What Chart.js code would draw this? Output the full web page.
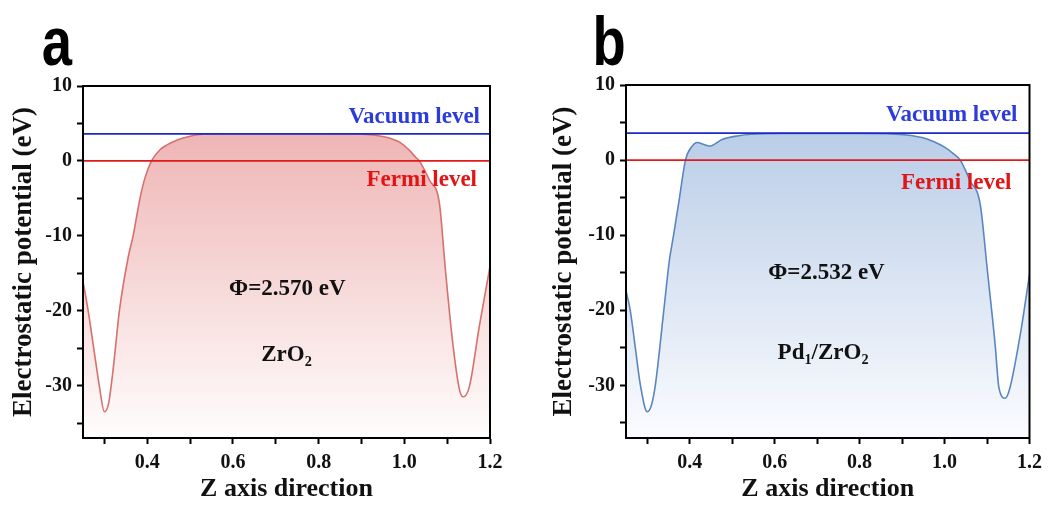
<!DOCTYPE html>
<html>
<head>
<meta charset="utf-8">
<script src="https://cdn.jsdelivr.net/npm/chart.js@4.4.0/dist/chart.umd.min.js"></script>
<style>
  html, body { margin: 0; padding: 0; background: #fff; }
  body { width: 1049px; height: 505px; position: relative; overflow: hidden; }
  .panel { position: absolute; top: 0; height: 505px; }
  #boxA { left: 0; width: 525px; }
  #boxB { left: 540px; width: 509px; }
</style>
</head>
<body>
<div class="panel" id="boxA"><canvas id="chartA"></canvas></div>
<div class="panel" id="boxB"><canvas id="chartB"></canvas></div>
<script>
// ZrO2 potential profile
const zrZ = [0.25, 0.262, 0.275, 0.288, 0.300, 0.310, 0.320, 0.335, 0.355, 0.367, 0.383, 0.395, 0.410, 0.430, 0.445, 0.470, 0.500, 0.530, 0.600, 0.700, 0.800, 0.880, 0.920, 0.950, 0.970, 0.989, 1.012, 1.027, 1.035, 1.059, 1.082, 1.096, 1.113, 1.129, 1.138, 1.152, 1.175, 1.200];
const zrV = [-16.1, -20.0, -25.0, -30.0, -33.5, -32.3, -28.0, -20.0, -13.0, -10.0, -5.0, -2.2, 0.0, 1.5, 2.1, 2.8, 3.3, 3.55, 3.62, 3.62, 3.62, 3.6, 3.5, 3.25, 2.95, 2.5, 1.4, 0.45, 0.0, -2.6, -5.7, -14.6, -24.3, -30.6, -31.5, -30.1, -22.1, -14.1];

// Pd1/ZrO2 potential profile
const pdZ = [0.25, 0.26, 0.272, 0.284, 0.30, 0.31, 0.319, 0.339, 0.352, 0.362, 0.376, 0.39, 0.405, 0.418, 0.432, 0.447, 0.476, 0.515, 0.546, 0.62, 0.70, 0.80, 0.868, 0.91, 0.947, 0.975, 1.001, 1.02, 1.037, 1.06, 1.084, 1.101, 1.119, 1.128, 1.143, 1.154, 1.181, 1.20];
const pdV = [-17.4, -20.0, -25.0, -30.0, -33.5, -32.6, -30.0, -20.0, -13.4, -10.0, -5.0, 0.0, 1.8, 2.35, 2.1, 1.87, 2.75, 3.25, 3.45, 3.55, 3.55, 3.55, 3.5, 3.35, 3.0, 2.45, 1.7, 0.9, 0.0, -2.75, -5.9, -14.8, -24.5, -30.3, -31.7, -30.3, -22.3, -15.2];

const vacuumLevel = 3.6;
const fermiLevel = 0;

const xRange = [0.25, 1.2];
const yRange = [-37, 10];
const xTickValues = [0.3, 0.4, 0.5, 0.6, 0.7, 0.8, 0.9, 1.0, 1.1, 1.2];
const xTickLabels = ['0.4', '0.6', '0.8', '1.0', '1.2'];
const yTickValues = [-35, -30, -25, -20, -15, -10, -5, 0, 5, 10];
const yTickLabels = ['-30', '-20', '-10', '0', '10'];

const serif = "'Liberation Serif', 'Times New Roman', serif";

function drawParts(ctx, parts, cx, cy, size) {
    // parts: [text, isSubscript]
    let total = 0;
    parts.forEach(p => {
        ctx.font = 'bold ' + (p[1] ? size * 0.62 : size) + 'px ' + serif;
        total += ctx.measureText(p[0]).width;
    });
    let x = cx - total / 2;
    ctx.textAlign = 'left';
    ctx.textBaseline = 'middle';
    parts.forEach(p => {
        ctx.font = 'bold ' + (p[1] ? size * 0.62 : size) + 'px ' + serif;
        ctx.fillText(p[0], x, p[1] ? cy + size * 0.32 : cy);
        x += ctx.measureText(p[0]).width;
    });
}

const panelText = {
    id: 'panelText',
    afterDraw(chart, args, o) {
        const ctx = chart.ctx;
        const a = chart.chartArea;
        const xs = chart.scales.x, ys = chart.scales.y;
        ctx.save();
        // frame
        ctx.strokeStyle = '#000';
        ctx.lineWidth = 2;
        ctx.strokeRect(a.left, a.top, a.right - a.left, a.bottom - a.top);

        // level labels
        ctx.font = 'bold 23px ' + serif;
        ctx.textAlign = 'right';
        ctx.textBaseline = 'middle';
        ctx.fillStyle = '#2b3bdc';
        ctx.fillText('Vacuum level', a.right - o.vacRight, ys.getPixelForValue(vacuumLevel) - o.vacUp);
        ctx.fillStyle = '#e41414';
        ctx.fillText('Fermi level', a.right - o.fermiRight, ys.getPixelForValue(fermiLevel) + o.fermiDown);

        // work function and system name
        ctx.fillStyle = '#111';
        o.notes.forEach(n => {
            drawParts(ctx, n.parts, xs.getPixelForValue(n.x), ys.getPixelForValue(n.y), 23);
        });

        // panel letter (narrowed like the original)
        ctx.font = "bold 68px 'Liberation Sans', Arial, sans-serif";
        ctx.textAlign = 'center';
        ctx.textBaseline = 'alphabetic';
        ctx.fillStyle = '#000';
        ctx.translate(o.letterX, 65);
        ctx.scale(0.8, 1);
        ctx.fillText(o.letter, 0, 0);
        ctx.restore();
    }
};

function makeChart(id, zs, vs, lineColor, topColor, bottomColor, pad, yWidth, opts) {
    const ctx = document.getElementById(id).getContext('2d');
    const points = zs.map((z, i) => ({x: z, y: vs[i]}));
    return new Chart(ctx, {
        type: 'line',
        data: {
            datasets: [{
                data: [{x: xRange[0], y: vacuumLevel}, {x: xRange[1], y: vacuumLevel}],
                borderColor: '#1c28c8',
                borderWidth: 1.8,
                pointRadius: 0,
                fill: false
            }, {
                data: [{x: xRange[0], y: fermiLevel}, {x: xRange[1], y: fermiLevel}],
                borderColor: '#e01a1a',
                borderWidth: 1.8,
                pointRadius: 0,
                fill: false
            }, {
                data: points,
                borderColor: lineColor,
                borderWidth: 1.6,
                pointRadius: 0,
                cubicInterpolationMode: 'monotone',
                fill: 'start',
                backgroundColor: function(c) {
                    const area = c.chart.chartArea;
                    if (!area) return topColor;
                    const g = c.chart.ctx.createLinearGradient(0, area.top, 0, area.bottom);
                    g.addColorStop(0, topColor);
                    g.addColorStop(1, bottomColor);
                    return g;
                }
            }]
        },
        options: {
            responsive: true,
            maintainAspectRatio: false,
            animation: false,
            layout: {padding: pad},
            plugins: {
                legend: {display: false},
                tooltip: {enabled: false},
                panelText: opts
            },
            scales: {
                x: {
                    type: 'linear',
                    min: xRange[0],
                    max: xRange[1],
                    afterBuildTicks: s => { s.ticks = xTickValues.map(v => ({value: v})); },
                    afterFit: s => { s.height = 67; },
                    grid: {drawOnChartArea: false, tickLength: 6, tickWidth: 2, tickColor: '#000'},
                    border: {display: true, color: '#000', width: 2},
                    ticks: {
                        autoSkip: false,
                        maxRotation: 0,
                        padding: 7,
                        color: '#111',
                        font: {family: serif, size: 20, weight: 'bold'},
                        callback: v => {
                            const t = v.toFixed(1);
                            return xTickLabels.includes(t) ? t : '';
                        }
                    },
                    title: {
                        display: true,
                        text: 'Z axis direction',
                        color: '#111',
                        font: {family: serif, size: 26, weight: 'bold'},
                        padding: {top: 0, bottom: 0}
                    }
                },
                y: {
                    type: 'linear',
                    min: yRange[0],
                    max: yRange[1],
                    afterBuildTicks: s => { s.ticks = yTickValues.map(v => ({value: v})); },
                    afterFit: s => { s.width = yWidth; },
                    grid: {drawOnChartArea: false, tickLength: 6, tickWidth: 2, tickColor: '#000'},
                    border: {display: true, color: '#000', width: 2},
                    ticks: {
                        autoSkip: false,
                        padding: 5,
                        color: '#111',
                        font: {family: serif, size: 20, weight: 'bold'},
                        callback: v => yTickLabels.includes(String(v)) ? String(v) : ''
                    },
                    title: {
                        display: true,
                        text: 'Electrostatic potential (eV)',
                        color: '#111',
                        font: {family: serif, size: 27, weight: 'bold'},
                        padding: {top: 8, bottom: 0}
                    }
                }
            }
        },
        plugins: [panelText]
    });
}

makeChart('chartA', zrZ, zrV, '#d8716d', 'rgba(236,170,170,1)', 'rgba(255,253,253,1)',
    {left: 0, top: 86, right: 35, bottom: 0}, 83,
    {
        letter: 'a', letterX: 57,
        vacRight: 10, vacUp: 17, fermiRight: 13, fermiDown: 19,
        notes: [
            {x: 0.727, y: -17.1, parts: [['\u03A6=2.570 eV', false]]},
            {x: 0.725, y: -25.9, parts: [['ZrO', false], ['2', true]]}
        ]
    });

makeChart('chartB', pdZ, pdV, '#5a86c0', 'rgba(176,198,228,1)', 'rgba(251,252,255,1)',
    {left: 0, top: 85, right: 17, bottom: 0}, 86,
    {
        letter: 'b', letterX: 69,
        vacRight: 12, vacUp: 18, fermiRight: 18, fermiDown: 23,
        notes: [
            {x: 0.722, y: -15.0, parts: [['\u03A6=2.532 eV', false]]},
            {x: 0.714, y: -25.7, parts: [['Pd', false], ['1', true], ['/ZrO', false], ['2', true]]}
        ]
    });
</script>
</body>
</html>
